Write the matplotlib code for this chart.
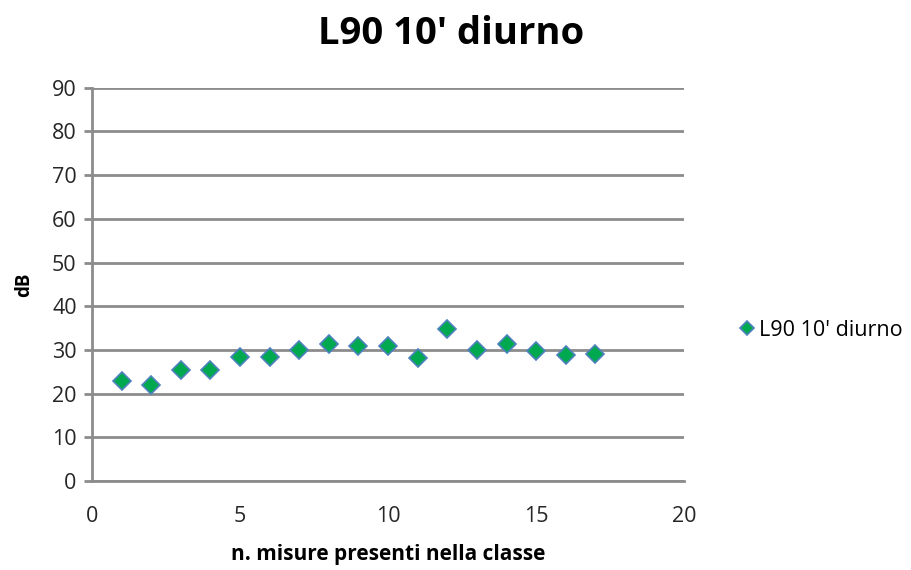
import matplotlib
matplotlib.use("Agg")
import matplotlib.pyplot as plt

# dati
misure = [1, 2, 3, 4, 5, 6, 7, 8, 9, 10, 11, 12, 13, 14, 15, 16, 17]
l90_diurno = [23.0, 22.1, 25.5, 25.5, 28.5, 28.5, 29.9, 31.3, 31.0, 31.0,
              28.2, 34.7, 29.9, 31.3, 29.7, 28.8, 29.1]
serie_label = "L90 10' diurno"
titolo = "L90 10' diurno"
xlabel = "n. misure presenti nella classe"
ylabel = "dB"

plt.rcParams["font.family"] = ["Open Sans", "DejaVu Sans"]

fig = plt.figure(figsize=(9.11, 5.70), dpi=100)
ax = fig.add_axes([0.101, 0.156, 0.650, 0.690])

grid_col = "#8c8c8c"
ax.plot(misure, l90_diurno, linestyle="none", marker="D", markersize=9.5,
        markerfacecolor="#00a84f", markeredgecolor="#4f81bd",
        markeredgewidth=1.2, label=serie_label, zorder=3)

ax.set_xlim(0, 20)
ax.set_ylim(0, 90)
ax.set_xticks(range(0, 21, 5))
ax.set_yticks(range(0, 91, 10))
ax.yaxis.grid(True, color=grid_col, linewidth=2)
ax.set_axisbelow(True)

for s in ["top", "right"]:
    ax.spines[s].set_visible(False)
for s in ["left", "bottom"]:
    ax.spines[s].set_color(grid_col)
    ax.spines[s].set_linewidth(2)

ax.tick_params(axis="y", direction="out", length=6, width=2, color=grid_col,
               labelsize=15.5, labelcolor="#262626", pad=5)
ax.tick_params(axis="x", length=0, labelsize=15.5, labelcolor="#262626", pad=18)

ax.set_xlabel(xlabel, fontsize=15, fontweight="bold", labelpad=12)
ax.set_ylabel(ylabel, fontsize=13.5, fontweight="bold", labelpad=13)
fig.text(0.495, 0.94, titolo, ha="center", va="center",
         fontsize=27.5, fontweight="bold")

ax.legend(loc="center left", bbox_to_anchor=(1.055, 0.384), frameon=False,
          fontsize=15.5, handletextpad=0.05, handlelength=1.0, markerscale=0.8)

fig.savefig("out.png", dpi=100)
